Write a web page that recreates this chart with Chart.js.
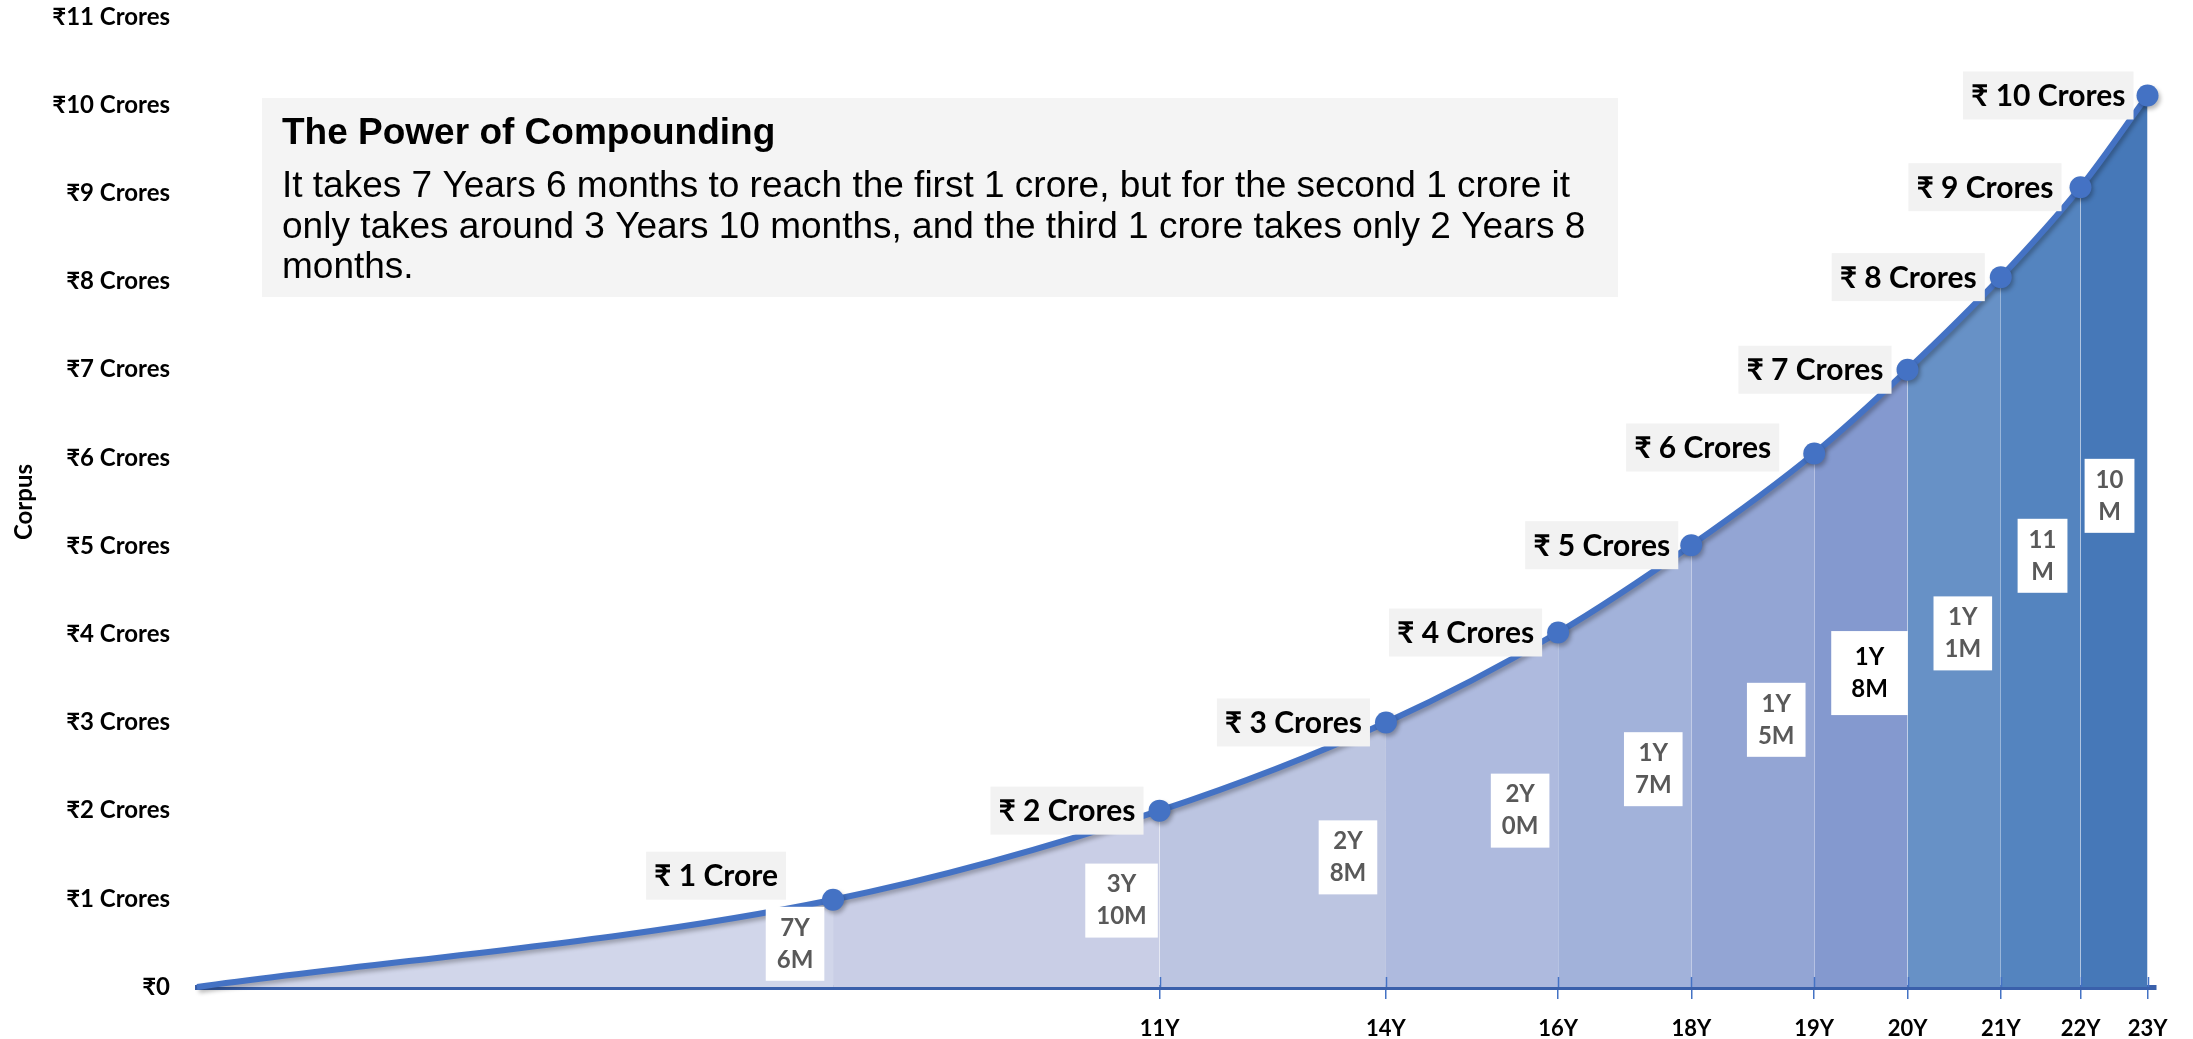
<!DOCTYPE html>
<html>
<head>
<meta charset="utf-8">
<script src="https://cdn.jsdelivr.net/npm/chart.js@4.4.0/dist/chart.umd.min.js"></script>
<style>
  html, body { margin: 0; padding: 0; background: #ffffff; }
</style>
</head>
<body>
<canvas id="corpusChart" width="2193" height="1039"></canvas>
<script>
// years from start at which each crore milestone is reached
const years = [0, 7.5, 11.35, 14.02, 16.05, 17.62, 19.07, 20.17, 21.27, 22.21, 23.0];
const corpusCrores = [0, 0.99, 2.0, 3.0, 4.02, 5.01, 6.05, 7.0, 8.05, 9.07, 10.11];

const milestoneLabels = ['₹ 1 Crore', '₹ 2 Crores', '₹ 3 Crores', '₹ 4 Crores', '₹ 5 Crores',
  '₹ 6 Crores', '₹ 7 Crores', '₹ 8 Crores', '₹ 9 Crores', '₹ 10 Crores'];
const durationLabels = [['7Y', '6M'], ['3Y', '10M'], ['2Y', '8M'], ['2Y', '0M'], ['1Y', '7M'],
  ['1Y', '5M'], ['1Y', '8M'], ['1Y', '1M'], ['11', 'M'], ['10', 'M']];
const xTickLabels = ['11Y', '14Y', '16Y', '18Y', '19Y', '20Y', '21Y', '22Y', '23Y'];
const yTickValues = [0, 1, 2, 3, 4, 5, 6, 7, 8, 9, 10, 11];

const bandColors = ['#d1d6ea', '#c9cee6', '#bcc5e1', '#aebade', '#a2b2da',
  '#93a5d4', '#8499cf', '#6791c6', '#5484bf', '#4678b8'];

const points = years.map((t, i) => ({ x: t, y: corpusCrores[i] }));

const lineShadow = {
  id: 'lineShadow',
  beforeDatasetDraw(chart, args) {
    if (args.index !== 0) return;
    const ctx = chart.ctx;
    ctx.save();
    ctx.shadowColor = 'rgba(0,0,0,0.28)';
    ctx.shadowBlur = 4;
    ctx.shadowOffsetX = 2;
    ctx.shadowOffsetY = 3;
  },
  afterDatasetDraw(chart, args) {
    if (args.index !== 0) return;
    chart.ctx.restore();
  }
};

const notes = {
  id: 'notes',
  afterDatasetsDraw(chart, args, opts) {
    const ctx = chart.ctx;
    const pts = chart.getDatasetMeta(0).data;
    const yScale = chart.scales.y;
    const xScale = chart.scales.x;

    // tick marks crossing the axis line
    ctx.save();
    ctx.strokeStyle = '#4472c4';
    ctx.lineWidth = 1.5;
    years.slice(2).forEach(t => {
      const x = Math.round(xScale.getPixelForValue(t)) + 0.5;
      ctx.beginPath();
      ctx.moveTo(x, chart.chartArea.bottom - 10);
      ctx.lineTo(x, chart.chartArea.bottom);
      ctx.stroke();
    });
    ctx.restore();

    // durations between milestones (white boxes)
    ctx.save();
    ctx.font = 'bold 24px Lato, "Noto Sans", sans-serif';
    ctx.textAlign = 'center';
    ctx.textBaseline = 'middle';
    durationLabels.forEach((lines, i) => {
      const emphasis = i === opts.emphasis;
      const cx = pts[i + 1].x - 38;
      const cy = yScale.getPixelForValue(opts.durationAnchors[i]);
      const w = Math.max(...lines.map(l => ctx.measureText(l).width)) + (emphasis ? 40 : 22);
      const h = emphasis ? 84 : 74;
      ctx.fillStyle = '#ffffff';
      ctx.fillRect(cx - w / 2, cy - h / 2, w, h);
      ctx.fillStyle = emphasis ? '#000000' : '#595959';
      ctx.fillText(lines[0], cx, cy - 16);
      ctx.fillText(lines[1], cx, cy + 16);
    });
    ctx.restore();

    // crore milestone labels (grey boxes left of the points)
    ctx.save();
    ctx.font = 'bold 30px Lato, "Noto Sans", sans-serif';
    ctx.textAlign = 'center';
    ctx.textBaseline = 'middle';
    milestoneLabels.forEach((label, i) => {
      const p = pts[i + 1];
      const nudge = opts.nudges[i] || [0, 0];
      const w = ctx.measureText(label).width + 16;
      const h = 48;
      const right = p.x - 16 + nudge[0];
      const cy = p.y + nudge[1];
      ctx.fillStyle = '#f2f2f2';
      ctx.fillRect(right - w, cy - h / 2, w, h);
      ctx.fillStyle = '#000000';
      ctx.fillText(label, right - w / 2, cy + 1);
    });
    ctx.restore();

    // text box
    ctx.save();
    ctx.fillStyle = '#f4f4f4';
    ctx.fillRect(262, 98, 1356, 199);
    ctx.fillStyle = '#000000';
    ctx.textBaseline = 'alphabetic';
    ctx.textAlign = 'left';
    ctx.font = 'bold 37px "Liberation Sans", Arial, sans-serif';
    ctx.fillText('The Power of Compounding', 282, 144);
    ctx.font = '37px "Liberation Sans", Arial, sans-serif';
    opts.bodyLines.forEach((line, i) => ctx.fillText(line, 282, 197 + i * 40.6));
    ctx.restore();
  }
};

const ctx = document.getElementById('corpusChart').getContext('2d');

new Chart(ctx, {
  type: 'line',
  data: {
    datasets: [{
      label: 'Corpus',
      data: points,
      borderColor: '#4472c4',
      borderWidth: 6,
      pointRadius: c => c.dataIndex === 0 ? 0 : 11,
      pointBackgroundColor: '#4472c4',
      pointBorderWidth: 0,
      fill: false,
      cubicInterpolationMode: 'monotone',
      clip: false
    }, {
      label: 'Bands',
      data: points,
      borderWidth: 0,
      pointRadius: 0,
      fill: 'origin',
      backgroundColor: bandColors[0],
      segment: {
        backgroundColor: c => bandColors[c.p0DataIndex]
      },
      cubicInterpolationMode: 'monotone'
    }]
  },
  options: {
    responsive: false,
    animation: false,
    layout: { padding: { top: 0, left: 10, right: 37, bottom: 0 } },
    plugins: {
      legend: { display: false },
      tooltip: { enabled: false },
      notes: {
        emphasis: 6,
        durationAnchors: [0.49, 0.98, 1.47, 2.0, 2.47, 3.03, 3.56, 4.01, 4.89, 5.57],
        nudges: [[-31, -24], [0, 0], [0, 0], [0, 0], [3, 0], [-19, -6], [0, 0], [0, 0], [-3, 0], [2, 0]],
        bodyLines: [
          'It takes 7 Years 6 months to reach the first 1 crore, but for the second 1 crore it',
          'only takes around 3 Years 10 months, and the third 1 crore takes only 2 Years 8',
          'months.'
        ]
      }
    },
    scales: {
      x: {
        type: 'linear',
        min: 0,
        max: 23.1,
        afterBuildTicks: scale => { scale.ticks = years.slice(2).map(v => ({ value: v })); },
        afterFit: scale => { scale.height = 52; },
        ticks: {
          autoSkip: false,
          maxRotation: 0,
          callback: (value, index) => xTickLabels[index],
          font: { family: 'Lato', weight: 'bold', size: 22 },
          color: '#000000',
          padding: 17
        },
        grid: {
          display: true,
          drawOnChartArea: false,
          drawTicks: true,
          tickLength: 12,
          color: '#4472c4',
          lineWidth: 1.5
        },
        border: { display: true, color: '#3a60ab', width: 5 }
      },
      y: {
        min: 0,
        max: 11,
        afterBuildTicks: scale => { scale.ticks = yTickValues.map(v => ({ value: v })); },
        afterFit: scale => {
          scale.width = 187;
          scale.paddingTop = 17;
          scale.paddingBottom = 0;
        },
        ticks: {
          callback: v => v === 0 ? '₹0' : '₹' + v + ' Crores',
          font: { family: 'Lato', weight: 'bold', size: 24 },
          color: '#000000',
          padding: 27
        },
        grid: { display: false, drawTicks: false },
        border: { display: false },
        title: {
          display: true,
          text: 'Corpus',
          font: { family: 'Lato', weight: 'bold', size: 24 },
          color: '#000000',
          padding: 0
        }
      }
    }
  },
  plugins: [lineShadow, notes]
});
</script>
</body>
</html>
